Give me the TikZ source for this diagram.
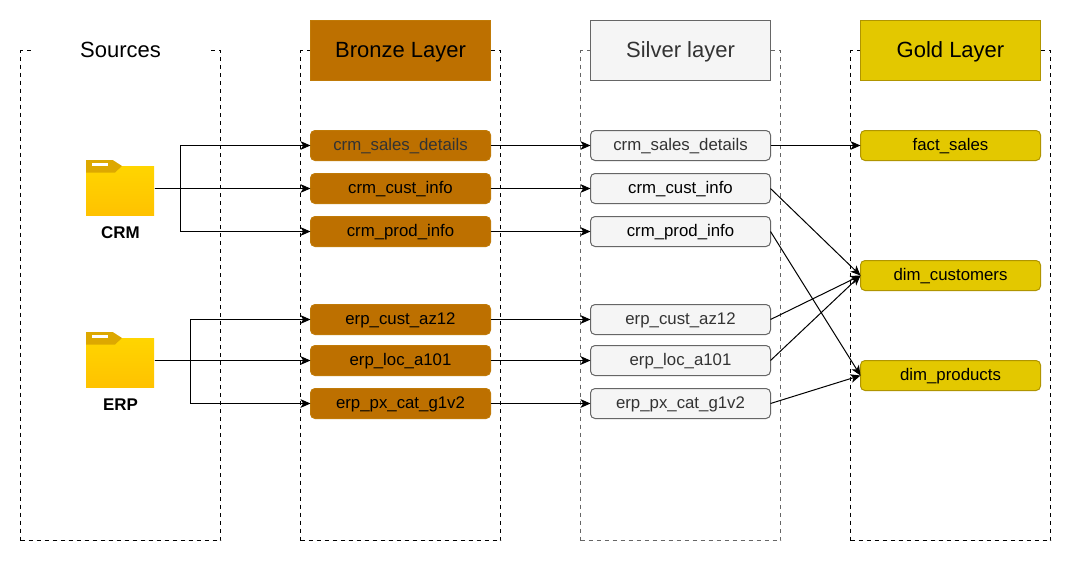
\documentclass[tikz,border=0pt]{standalone}
\usepackage{fontspec}
\setmainfont{Liberation Sans}
\usetikzlibrary{arrows.meta}
\definecolor{bronze}{HTML}{BD7000}
\definecolor{bronzeline}{HTML}{C07A08}
\definecolor{goldfill}{HTML}{E3C800}
\definecolor{goldline}{HTML}{B09500}
\definecolor{silverfill}{HTML}{F5F5F5}
\definecolor{silverline}{HTML}{666666}
\definecolor{silvertext}{HTML}{333333}
\definecolor{folderTab}{HTML}{DDA800}
\definecolor{folderTop}{HTML}{FFD500}
\definecolor{folderBottom}{HTML}{FFC200}
\tikzset{
  x=0.75pt,y=-0.75pt,
  every node/.style={inner sep=0pt,outer sep=0pt},
  container/.style={draw=black,dashed,dash pattern=on 3pt off 3pt,line width=0.6pt,minimum width=150pt,minimum height=367.5pt},
  silvercontainer/.style={container,draw=silverline},
  titlebox/.style={minimum width=135pt,minimum height=45pt,line width=0.75pt,font=\fontsize{16.5}{19}\selectfont,text height=13pt,text depth=2.5pt},
  sourcetitle/.style={titlebox,fill=white},
  bronzetitle/.style={titlebox,fill=bronze,draw=bronzeline},
  silvertitle/.style={titlebox,fill=silverfill,draw=silverline,text=silvertext},
  goldtitle/.style={titlebox,fill=goldfill,draw=goldline},
  tablebox/.style={minimum width=135pt,minimum height=22.5pt,rounded corners=3.4pt,line width=0.75pt,font=\fontsize{12.6}{15}\selectfont,text height=10.2pt,text depth=2pt},
  bronzebox/.style={tablebox,fill=bronze,draw=bronzeline},
  silverbox/.style={tablebox,fill=silverfill,draw=silverline,text=silvertext},
  goldbox/.style={tablebox,fill=goldfill,draw=goldline},
  folderbox/.style={minimum width=51pt,minimum height=42pt},
  folderlabel/.style={font=\bfseries\fontsize{12.7}{15}\selectfont},
  flow/.style={draw=black,line width=0.75pt,-{Stealth[length=7.5pt,width=6.5pt,inset=2pt]}},
}
\newcommand{\folderglyph}[1]{%
  \begin{scope}[shift={(#1)}]
    \fill[folderTab] (0,0) -- (26.7,0) -- (36,6) -- (29,12.5) -- (0,12.5) -- cycle;
    \shade[top color=folderTop,bottom color=folderBottom] (0,6) rectangle (68,55.5);
    \fill[folderTab] (0,6) -- (36,6) -- (29,12.5) -- (0,12.5) -- cycle;
    \fill[white] (6,3) rectangle (21.7,6);
  \end{scope}}
\begin{document}
\begin{tikzpicture}
\useasboundingbox (0,0) rectangle (1071,561);
\fill[white] (0,0) rectangle (1071,561);
% containers
\node[container] (csrc) at (120.5,295.5) {};
\node[container] (cbrz) at (400.5,295.5) {};
\node[silvercontainer] (cslv) at (680.5,295.5) {};
\node[container] (cgld) at (950.5,295.5) {};
% titles
\node[sourcetitle] (tsrc) at (120.5,50.5) {Sources};
\node[bronzetitle] (tbrz) at (400.5,50.5) {Bronze Layer};
\node[silvertitle] (tslv) at (680.5,50.5) {Silver layer};
\node[goldtitle] (tgld) at (950.5,50.5) {Gold Layer};
% folders
\folderglyph{86,160}
\folderglyph{86,332}
\node[folderbox] (crm) at (120.5,188) {};
\node[folderbox] (erp) at (120.5,360) {};
\node[folderlabel] (crmlabel) at (120.5,233) {CRM};
\node[folderlabel] (erplabel) at (120.5,405) {ERP};
% bronze
\node[bronzebox,text=silvertext] (b1) at (400.5,145.5) {crm\_sales\_details};
\node[bronzebox] (b2) at (400.5,188.5) {crm\_cust\_info};
\node[bronzebox] (b3) at (400.5,231.5) {crm\_prod\_info};
\node[bronzebox] (b4) at (400.5,319.5) {erp\_cust\_az12};
\node[bronzebox] (b5) at (400.5,360.5) {erp\_loc\_a101};
\node[bronzebox] (b6) at (400.5,403.5) {erp\_px\_cat\_g1v2};
% silver
\node[silverbox] (s1) at (680.5,145.5) {crm\_sales\_details};
\node[silverbox,text=black] (s2) at (680.5,188.5) {crm\_cust\_info};
\node[silverbox,text=black] (s3) at (680.5,231.5) {crm\_prod\_info};
\node[silverbox] (s4) at (680.5,319.5) {erp\_cust\_az12};
\node[silverbox] (s5) at (680.5,360.5) {erp\_loc\_a101};
\node[silverbox] (s6) at (680.5,403.5) {erp\_px\_cat\_g1v2};
% gold
\node[goldbox] (g1) at (950.5,145.5) {fact\_sales};
\node[goldbox] (g2) at (950.5,275.5) {dim\_customers};
\node[goldbox] (g3) at (950.5,375.5) {dim\_products};
% source to bronze
\coordinate (jcrm) at (180.5,188.5);
\coordinate (jerp) at (190.5,360.5);
\draw[flow] (crm.east |- jcrm) -- (b2.west);
\draw[flow] (crm.east |- jcrm) -- (jcrm) |- (b1.west);
\draw[flow] (crm.east |- jcrm) -- (jcrm) |- (b3.west);
\draw[flow] (erp.east |- jerp) -- (b5.west);
\draw[flow] (erp.east |- jerp) -- (jerp) |- (b4.west);
\draw[flow] (erp.east |- jerp) -- (jerp) |- (b6.west);
% bronze to silver
\foreach \i in {1,...,6} {\draw[flow] (b\i.east) -- (s\i.west);}
% silver to gold
\draw[flow] (s1.east) -- (g1.west);
\draw[flow] (s2.east) -- (g2.west);
\draw[flow] (s4.east) -- (g2.west);
\draw[flow] (s5.east) -- (g2.west);
\draw[flow] (s3.east) -- (g3.west);
\draw[flow] (s6.east) -- (g3.west);
\end{tikzpicture}
\end{document}
